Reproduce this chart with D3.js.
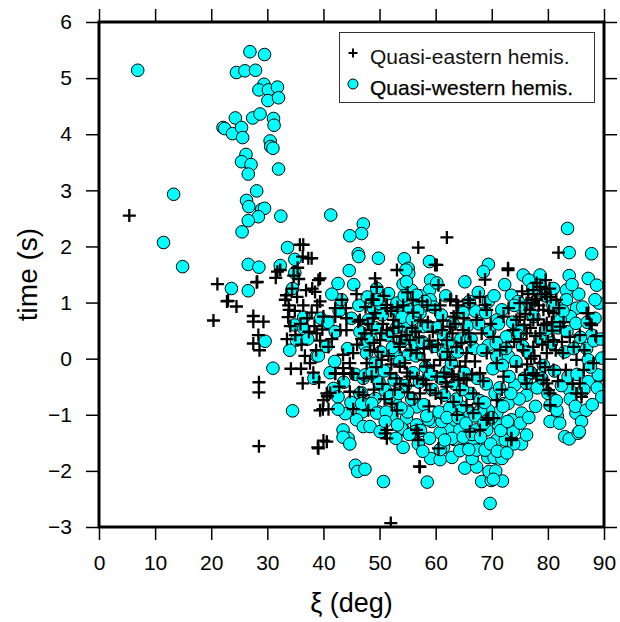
<!DOCTYPE html>
<html><head><meta charset="utf-8">
<script src="https://cdn.jsdelivr.net/npm/d3@7"></script>
<style>body{margin:0;background:#fff;} text{font-family:"Liberation Sans",Arial,Helvetica,sans-serif;}</style>
</head><body><svg id="c" width="620" height="622"></svg>
<script>
// ---- data ----
const xTicks = [0,10,20,30,40,50,60,70,80,90];
const yTicks = [-3,-2,-1,0,1,2,3,4,5,6];
const seriesNames = ["Quasi-eastern hemis.","Quasi-western hemis."];
const xTitle = "ξ (deg)";
const yTitle = "time (s)";

// Quasi-western hemisphere (circles): [xi, time]
const western = [
[6.9,5.14],[11.5,2.07],[13.3,2.93],[14.9,1.64],
[26.9,5.47],[29.5,5.42],[24.5,5.10],[26.0,5.13],[27.9,5.14],[29.4,4.89],[28.5,4.79],[30.2,4.79],[31.8,4.84],[30.1,4.60],[32.0,4.65],[24.3,4.29],[27.4,4.29],[28.7,4.36],[31.1,4.28],[31.2,4.16],[22.1,4.12],[22.4,4.10],[23.8,4.01],[25.4,4.12],[25.6,3.94],[30.5,3.88],[30.6,3.78],[31.0,3.75],[26.2,3.64],[25.4,3.51],[27.1,3.46],[26.6,3.29],[32.0,3.38],[28.1,2.99],[26.3,2.82],[26.7,2.71],[29.0,2.66],[29.5,2.68],[28.4,2.53],[26.6,2.46],[32.4,2.54],[25.5,2.26],
[23.6,1.25],[26.6,1.21],[26.6,1.68],[28.5,1.63],[32.3,1.66],[33.6,1.98],[29.6,0.31],[31.0,-0.17],[34.5,-0.93],[34.9,1.77],[34.5,1.25],[34.9,0.60],[35.2,0.33],[34.0,0.15],[36.5,0.54],[36.5,0.74],[38.8,0.05],[34.9,1.53],[41.3,2.56],
[37.2,0.35],[38.3,-0.35],[39.5,0.72],
[40.5,0.22],[41.2,-0.25],[42.8,0.85],[43.6,-0.42],[44.3,0.18],[45.0,0.72],[45.7,-0.28],[43.2,1.05],[46.3,0.95],[44.9,-0.78],[40.8,0.65],[42.0,-0.05],[45.4,1.32],[46.9,-0.95],[47.8,1.10],[43.9,-0.98],[41.5,1.15],
[41.8,-0.53],[42.6,-0.68],[42.6,-0.90],[43.5,-1.27],[44.4,-1.42],[43.5,-1.40],[44.7,-1.52],[45.9,-1.09],[47.1,-1.21],[48.3,-1.21],[45.7,-1.90],[46.1,-2.01],[47.4,-1.97],[50.7,-2.19],[54.2,-1.58],[58.5,-2.20],[59.1,-1.78],[60.8,-1.80],[62.9,-1.76],[61.4,-1.58],[62.4,-1.24],[63.3,-1.44],[46.8,-0.61],[47.1,-0.35],[48.3,-0.80],[49.8,-0.95],[50.4,-1.30],[52.2,-1.03],[54.2,-1.26],[54.8,-1.06],[56.6,-1.18],[59.3,-1.12],[60.8,-1.32],[61.1,-1.12],[61.4,-0.97],[63.4,-1.09],[56.6,-0.86],[52.8,-0.77],[51.0,-0.56],[49.2,-0.71],
[69.7,-2.58],[68.2,-2.19],[69.9,-2.17],[71.9,-2.18],[69.5,-2.01],[70.7,-2.00],[65.2,-1.95],[67.3,-1.93],[66.5,-1.78],[69.3,-1.76],[70.4,-1.76],[71.8,-1.78],[64.3,-1.64],[68.3,-1.60],[70.9,-1.45],[75.3,-1.52],[76.2,-1.36],[72.4,-1.45],[73.8,-1.30],[65.2,-1.42],[66.8,-1.45],[83.0,-1.39],[83.8,-1.43],[85.4,-1.33],[85.0,-0.97],[81.7,-1.03],[80.4,-0.83],[89.0,-0.31],[83.9,-0.56],[75.3,-0.97],[73.5,-1.09],[72.2,-0.80],[70.9,-0.97],[69.4,-0.92],[68.0,-0.92],[66.1,-0.97],[64.6,-0.86],[71.2,-1.18],[69.1,-1.27],[67.2,-1.27],[64.3,-1.27],[70.6,-0.62],[72.9,-0.80],[76.2,-0.65],[74.1,-0.47],[76.2,-0.44],[87.2,-0.41],
[83.5,2.32],[83.8,1.89],[87.8,1.87],[87.2,1.43],[88.7,1.31],[89.1,0.99],[88.4,1.05],[83.3,1.22],[83.3,1.05],[69.4,1.68],[68.5,1.55],[65.2,1.37],[75.6,1.49],[76.6,1.40],[78.6,1.49],[78.6,1.31],[73.5,1.13],[74.7,1.02],[75.3,0.90],[71.8,0.87],[70.9,0.69],[69.4,1.02],[65.8,0.93],[67.0,0.85],[85.1,0.90],[84.0,0.75],[85.0,0.63],[87.8,0.42],[81.9,0.90],[82.2,0.69],[72.6,0.39],[69.4,0.24],[70.9,0.04],[73.0,0.04],[74.4,0.51],[75.3,0.51],[86.9,0.18],[87.2,-0.02],[89.6,0.01],[89.0,-0.29],
[47.1,2.40],[46.8,2.23],[44.7,2.19],[46.2,1.87],[46.3,1.82],[49.8,1.79],[44.6,1.57],[42.6,1.34],[54.4,1.78],[55.1,1.61],[55.2,1.52],[54.2,1.33],[58.9,1.73],[59.1,1.40],[55.7,1.22],[58.9,1.22],[57.2,1.12],[51.6,1.16],[49.5,1.25],[56.9,0.99],[54.5,0.96],[53.3,0.84],[48.9,0.90],[48.0,0.69],[46.5,0.48],[42.1,0.48],[39.1,0.05],[47.4,0.24],[49.2,-0.08],[47.7,0.10],[47.4,-0.29],[54.8,0.57],[57.8,0.57],[61.4,0.42],[62.0,-0.23],[61.4,0.10],[56.3,0.27],[52.8,0.10],
[46.5,-0.62],[46.8,-0.80],[48.6,-0.80],[49.5,-0.97],[53.1,0.99],[54.7,1.58],[54.8,1.37],[56.6,1.13],[59.0,1.05],[55.4,0.87],[57.2,0.81],[50.1,-1.30],[53.9,-1.24],[56.3,-1.30],[58.7,-1.09],[60.8,-1.62],[62.9,-1.42],[64.9,-1.40],[67.3,-1.63],[68.8,-1.63],[81.6,-0.92],
[48.5,0.35],[49.3,0.55],[50.2,0.12],[50.8,-0.22],[51.4,0.42],[49.9,-0.42],[51.8,-0.68],[50.5,0.78],[52.3,0.20],[48.7,-0.25],[51.2,-0.95],[50.0,0.98],[52.6,-0.38],[49.6,1.05],[51.0,-1.12],
[53.0,0.55],[53.6,-0.05],[54.1,0.32],[54.6,-0.48],[55.2,0.08],[55.7,-0.72],[53.4,-0.62],[54.0,0.74],[55.5,0.45],[53.2,-1.18],[55.0,-0.95],[54.4,1.12],[56.0,-0.25],[55.8,0.70],[53.8,-0.88],[52.9,-1.42],[55.3,-1.35],
[56.5,0.05],[57.1,-0.42],[57.6,0.30],[58.2,-0.15],[58.7,0.58],[59.4,-0.55],[57.9,-0.82],[56.8,0.85],[59.8,0.22],[58.4,-1.02],[57.3,-1.28],[59.6,0.92],[56.9,-1.52],[58.1,1.02],[59.1,-0.28],[57.7,-1.65],[58.9,-1.42],
[60.3,0.55],[60.9,-0.35],[61.5,-0.65],[62.2,0.28],[62.8,-0.08],[63.4,-0.45],[61.0,0.78],[63.9,0.12],[60.6,-0.95],[62.5,-0.88],[63.1,0.62],[61.8,1.12],[60.2,1.35],[63.7,-0.72],[62.0,-1.05],[64.0,-1.05],[61.6,-1.45],
[64.5,0.35],[65.1,-0.25],[65.6,0.58],[66.2,-0.62],[66.8,0.18],[67.4,-0.35],[64.8,-0.55],[66.0,1.02],[67.7,0.62],[65.4,-1.15],[67.0,-1.02],[66.5,-1.35],[67.9,-0.75],[64.9,0.82],[66.3,0.35],[67.6,1.18],[65.9,-1.62],[68.0,-1.40],
[68.4,0.15],[69.0,-0.45],[69.6,0.48],[70.2,-0.18],[70.8,0.28],[71.4,-0.52],[68.7,-0.78],[70.0,-1.05],[71.2,0.62],[71.9,-0.12],[68.9,0.82],[70.4,1.12],[69.8,-1.52],[71.6,-1.28],[68.6,-1.15],[72.0,-0.85],[71.0,-1.65],[70.3,-2.15],
[72.5,0.18],[73.1,-0.32],[73.7,0.65],[74.3,-0.05],[74.9,-0.72],[75.5,0.22],[72.8,-1.12],[74.0,0.95],[75.8,-0.35],[73.4,-0.62],[74.6,0.42],[72.3,1.32],[75.1,-1.15],[73.9,-1.52],[72.7,-1.68],
[76.4,0.12],[77.0,-0.25],[77.5,0.75],[78.1,-0.52],[78.6,0.35],[79.2,-0.12],[76.8,0.98],[79.7,0.52],[77.8,-0.85],[78.9,-0.35],[79.5,1.12],[76.6,-1.05],[80.0,-0.62],[77.3,1.25],
[80.6,0.28],[81.2,-0.22],[81.8,0.55],[82.4,-0.48],[83.0,0.12],[83.6,-0.32],[80.9,0.95],[82.7,0.85],[81.5,-0.75],[83.4,0.48],[80.4,-1.12],[82.1,-1.15],[84.0,-0.72],[81.0,1.25],[83.8,1.48],
[84.6,0.18],[85.2,-0.28],[85.8,0.38],[86.4,-0.55],[87.0,0.65],[87.6,-0.15],[88.2,0.32],[88.8,-0.52],[89.4,0.35],[84.9,-0.85],[86.2,0.92],[85.5,1.15],[86.8,-0.92],[88.4,0.72],[89.6,-0.68],[84.3,1.32],[86.0,-1.12],[87.9,-0.82],[85.6,-1.30]
];

// Quasi-eastern hemisphere (crosses): [xi, time]
const eastern = [
[5.4,2.55],[21.1,1.33],[22.8,1.02],[23.0,1.03],[24.5,0.93],[20.4,0.68],[28.1,1.36],[28.2,1.37],[27.5,0.76],[27.5,0.66],[29.3,0.66],[28.4,0.42],[27.5,0.27],[28.6,0.15],[28.5,-0.42],[28.5,-0.60],[28.5,-1.56],[34.2,-0.18],[36.0,-0.18],[36.3,-0.44],[35.8,2.03],[37.3,1.79],[32.3,1.58],[31.5,1.44],[31.8,1.55],[33.4,1.13],[33.9,0.87],[33.7,0.74],
[39.0,-1.58],[40.0,-1.46],[39.9,-0.90],[40.9,-0.90],[40.7,-0.67],[41.2,-0.61],[42.1,-0.27],[43.6,-0.27],[45.3,-0.27],[45.3,-0.90],[47.1,-0.65],[48.0,-0.92],[51.0,-1.33],[51.3,-1.42],[53.1,-0.92],[56.6,-1.27],[56.9,-1.45],[57.1,-1.92],[60.5,-1.60],[52.0,-2.93],
[66.1,-1.30],[69.4,-1.06],[70.3,-1.06],[73.5,-1.45],[80.4,-0.83],[80.1,-0.56],[86.0,-0.62],[86.0,-0.68],[79.2,-0.38],[75.9,-0.29],[67.6,-0.80],[65.0,-0.35],[66.5,-0.28],
[81.9,1.89],[72.9,1.61],[68.8,1.41],[65.8,1.05],[87.2,0.81],[87.8,0.60],[63.7,1.02],[68.8,0.96],[75.0,0.75],[76.2,0.99],[79.5,1.16],[80.5,1.10],[77.7,1.05],[85.7,0.42],
[62.0,2.16],[56.9,1.98],[59.9,1.67],[53.1,1.58],[49.2,1.43],[60.5,1.31],[39.4,1.43],[37.9,1.79],[43.3,1.05],[48.9,1.05],[46.5,0.69],[44.1,0.51],[40.0,0.75],[38.5,1.19],[40.9,0.21],[43.5,0.07],[44.7,-0.08],[42.1,-0.26],[52.5,0.69],[51.3,0.96],[62.6,1.05],[63.2,0.75],[48.6,0.51],[53.6,0.27],
[33.2,1.05],[33.8,0.95],[34.4,1.25],[34.9,0.85],[35.3,1.10],[35.9,0.62],[36.4,0.95],[36.9,1.22],[37.4,0.48],[37.9,0.82],[38.4,0.58],[38.9,0.95],[39.4,0.32],[35.0,0.42],[35.6,1.42],[36.1,0.25],[37.1,0.72],[38.0,1.25],[34.1,0.58],[36.7,0.05],[37.6,-0.08],[38.7,0.15],[39.8,0.52],[35.4,1.62],[36.3,1.82],[34.7,1.48],[33.5,0.35],[38.2,-0.25],[39.2,-0.42],
[36.4,2.03],[39.1,1.40],[39.4,1.02],[42.1,0.90],[42.1,0.75],[44.1,0.72],[38.8,0.45],[43.0,0.51],[46.2,0.66],[49.5,1.28],[48.6,1.05],[49.2,0.81],[51.3,0.90],[53.4,0.57],[51.3,0.51],[50.1,0.33],[52.5,0.39],[53.6,0.21],[55.4,0.33],[56.6,0.10],[58.4,-0.14],[57.8,-0.38],[59.0,-0.56],[57.2,-0.62],[55.4,-0.32],[53.6,-0.14],[51.9,-0.26],[50.4,-0.02],[48.6,-0.32],[47.7,-0.08],[45.3,0.10],[43.5,-0.17],[45.0,-0.26],[44.7,-0.59],[40.6,-0.62],[40.0,-0.74],[39.4,-0.92],[40.6,-1.48],[39.1,-1.60],[51.3,-1.27],[56.9,-1.33],[57.2,-1.93],[67.9,-1.27],[73.5,-1.42],[72.9,1.58],[60.2,1.67],
[77.4,1.22],[78.6,1.28],[79.8,1.10],[78.0,1.05],[76.8,0.87],[79.2,0.87],[81.0,0.81],[77.4,0.69],[79.8,0.63],[82.2,0.57],[78.6,0.45],[76.2,0.45],[81.0,0.33],[77.4,0.21],[79.8,0.10],[75.6,0.15],[82.7,0.10],[78.6,-0.08],[81.0,-0.20],[77.4,-0.26],[79.8,-0.44],[80.4,-0.62],[76.2,-0.44],[74.4,-0.14],[74.4,0.69],[75.0,0.99],[85.1,-0.02],[86.4,-0.20],[85.7,-0.44],[85.1,-0.62],[87.5,0.63],[86.9,0.81],[83.9,0.39],[84.6,0.21],[88.1,-0.08],
[62.6,1.05],[63.7,0.81],[62.6,0.57],[64.9,0.51],[62.0,0.33],[63.7,0.21],[65.5,0.10],[62.6,-0.02],[64.3,-0.14],[63.2,-0.32],[65.5,-0.38],[62.0,-0.50],[64.3,-0.56],[66.7,-0.62],[63.2,-0.77],[65.5,-0.83],[67.9,-0.26],[69.1,0.10],[70.9,-0.08],[70.3,0.39],[72.6,0.21],[72.1,-0.32],[67.3,0.69],[69.1,0.87],[66.1,0.99],[67.9,1.10],[72.1,0.75],[73.8,0.51],[66.7,-0.97],[69.1,-1.09],[70.9,-0.74],[60.8,-0.02],[60.2,-0.32],[61.1,0.51],[59.9,0.87],[59.3,0.21],
[46.8,0.35],[47.5,0.92],[45.9,1.15],[48.3,0.15],[50.6,0.62],[54.2,0.95],[55.8,0.55],[54.5,-0.08],[56.2,-0.72],[52.7,-0.55],[50.9,-0.72],[47.2,-0.35],[58.6,0.65],[57.6,1.02],[55.0,1.18],
[46.0,0.25],[47.9,0.62],[49.7,0.12],[50.8,1.12],[52.0,0.85],[53.0,-0.35],[54.8,0.42],[56.0,0.82],[57.0,0.38],[58.0,-0.02],[59.5,0.48],[60.8,0.95],[61.5,-0.25],[63.0,0.45],[64.0,0.95],[65.0,0.72],[66.2,0.30],[67.0,-0.05],[68.2,0.45],[69.8,0.62],[71.5,0.15],[73.0,0.90],[74.0,0.30],[75.8,0.60],[76.5,1.15],[78.2,0.70],[79.0,0.25],[80.2,0.85],[81.5,1.05],[82.5,0.30],[83.2,-0.20],[84.4,-0.45],[86.5,0.15],[88.6,0.40],[77.0,0.00],[80.8,0.50],[78.0,1.35],[79.6,1.40],[44.0,0.90],[41.5,0.35],[42.8,-0.50],[46.3,-0.60],[49.0,-0.55],[52.2,-0.80],[55.0,-0.60],[58.8,-0.85],[61.0,-0.70],[63.8,-1.00],[68.5,-0.40],[71.8,-0.55],
[47.3,0.45],[48.8,0.72],[49.4,-0.15],[50.3,0.45],[51.6,0.05],[52.4,0.55],[53.2,0.92],[53.9,0.40],[54.9,-0.25],[55.6,0.15],[56.4,0.48],[57.3,0.68],[57.9,0.18],[58.9,0.32],[59.7,-0.12],[60.4,0.25],[61.3,0.68],[62.1,0.12],[62.9,-0.28],[63.5,0.62],[64.6,0.28],[65.3,-0.05],[65.9,0.45],[64.1,-0.38],[61.8,-0.42],[60.0,-0.62],[58.3,-0.45],[56.7,-0.35],[55.2,-0.48],[53.7,-0.45],[52.1,-0.10],[50.5,-0.45],[49.0,0.28],[55.9,1.05],[58.5,0.95],
[75.2,0.35],[76.0,0.80],[76.9,0.55],[77.8,0.40],[78.4,0.95],[79.3,0.60],[80.0,0.30],[80.7,0.65],[81.4,0.15],[82.0,0.90],[77.2,1.00],[78.9,1.15],[80.3,1.25],[76.3,-0.10],[78.0,-0.30],[79.5,-0.15],[81.8,-0.40],[77.6,0.05],[75.4,1.20],[82.8,0.65]
];

// ---- chart ----
const L = 99, R = 604, T = 22, B = 527;
const svg = d3.select("#c");
const x = d3.scaleLinear().domain([0,90]).range([L,R]);
const y = d3.scaleLinear().domain([-3,6]).range([B,T]);
const FONT = 21;

svg.append("clipPath").attr("id","clp").append("rect")
  .attr("x",L).attr("y",T).attr("width",R-L).attr("height",B-T);
const marks = svg.append("g").attr("clip-path","url(#clp)");

// circles
marks.append("g").selectAll("circle").data(western).join("circle")
  .attr("cx",d=>x(d[0])).attr("cy",d=>y(d[1])).attr("r",6.3)
  .attr("fill","#00ffff").attr("stroke","#000").attr("stroke-width",1);

// crosses
const ps = 6.5;
marks.append("g").selectAll("path").data(eastern).join("path")
  .attr("d",d=>{const cx=x(d[0]),cy=y(d[1]);return `M${cx-ps},${cy}H${cx+ps}M${cx},${cy-ps}V${cy+ps}`;})
  .attr("stroke","#000").attr("stroke-width",2.3).attr("fill","none");

// axes
function styleAxis(g){
  g.select(".domain").remove();
  g.selectAll(".tick line").attr("stroke","#000").attr("stroke-width",1.5);
  g.selectAll(".tick text").attr("font-size",FONT).attr("fill","#000")
   .attr("font-family","Liberation Sans, Arial, sans-serif");
}
svg.append("g").attr("transform",`translate(0,${B})`)
  .call(d3.axisBottom(x).tickValues(xTicks).tickSize(13).tickPadding(15).tickFormat(d3.format("d"))).call(styleAxis);
svg.append("g").attr("transform",`translate(${L},0)`)
  .call(d3.axisLeft(y).tickValues(yTicks).tickSize(13).tickPadding(14).tickFormat(d3.format("d"))).call(styleAxis);
svg.append("g").attr("transform",`translate(0,${T})`)
  .call(d3.axisTop(x).tickValues(xTicks).tickSize(13).tickFormat("")).call(styleAxis);
svg.append("g").attr("transform",`translate(${R},0)`)
  .call(d3.axisRight(y).tickValues(yTicks).tickSize(13).tickFormat("")).call(styleAxis);

// frame
svg.append("rect").attr("x",L).attr("y",T).attr("width",R-L).attr("height",B-T)
  .attr("fill","none").attr("stroke","#000").attr("stroke-width",3);

// axis titles
svg.append("text").attr("x",(L+R)/2).attr("y",612).attr("text-anchor","middle")
  .attr("font-size",27).text(xTitle);
svg.append("text").attr("transform",`translate(37,${(T+B)/2}) rotate(-90)`)
  .attr("text-anchor","middle").attr("font-size",28).text(yTitle);

// legend
const lg = svg.append("g");
lg.append("rect").attr("x",339.5).attr("y",32.5).attr("width",255).attr("height",70)
  .attr("fill","#fff").attr("stroke","#333").attr("stroke-width",1);
const lx = 353;
lg.append("path").attr("d",`M${lx-4.5},53H${lx+4.5}M${lx},48.5V57.5`).attr("stroke","#000").attr("stroke-width",2);
lg.append("circle").attr("cx",lx).attr("cy",84).attr("r",5).attr("fill","#00ffff").attr("stroke","#000").attr("stroke-width",1);
lg.append("text").attr("x",370).attr("y",64).attr("font-size",21).attr("fill","#111").text(seriesNames[0]);
lg.append("text").attr("x",370).attr("y",95).attr("font-size",21).attr("fill","#000")
  .attr("stroke","#000").attr("stroke-width",0.25).text(seriesNames[1]);
</script></body></html>
